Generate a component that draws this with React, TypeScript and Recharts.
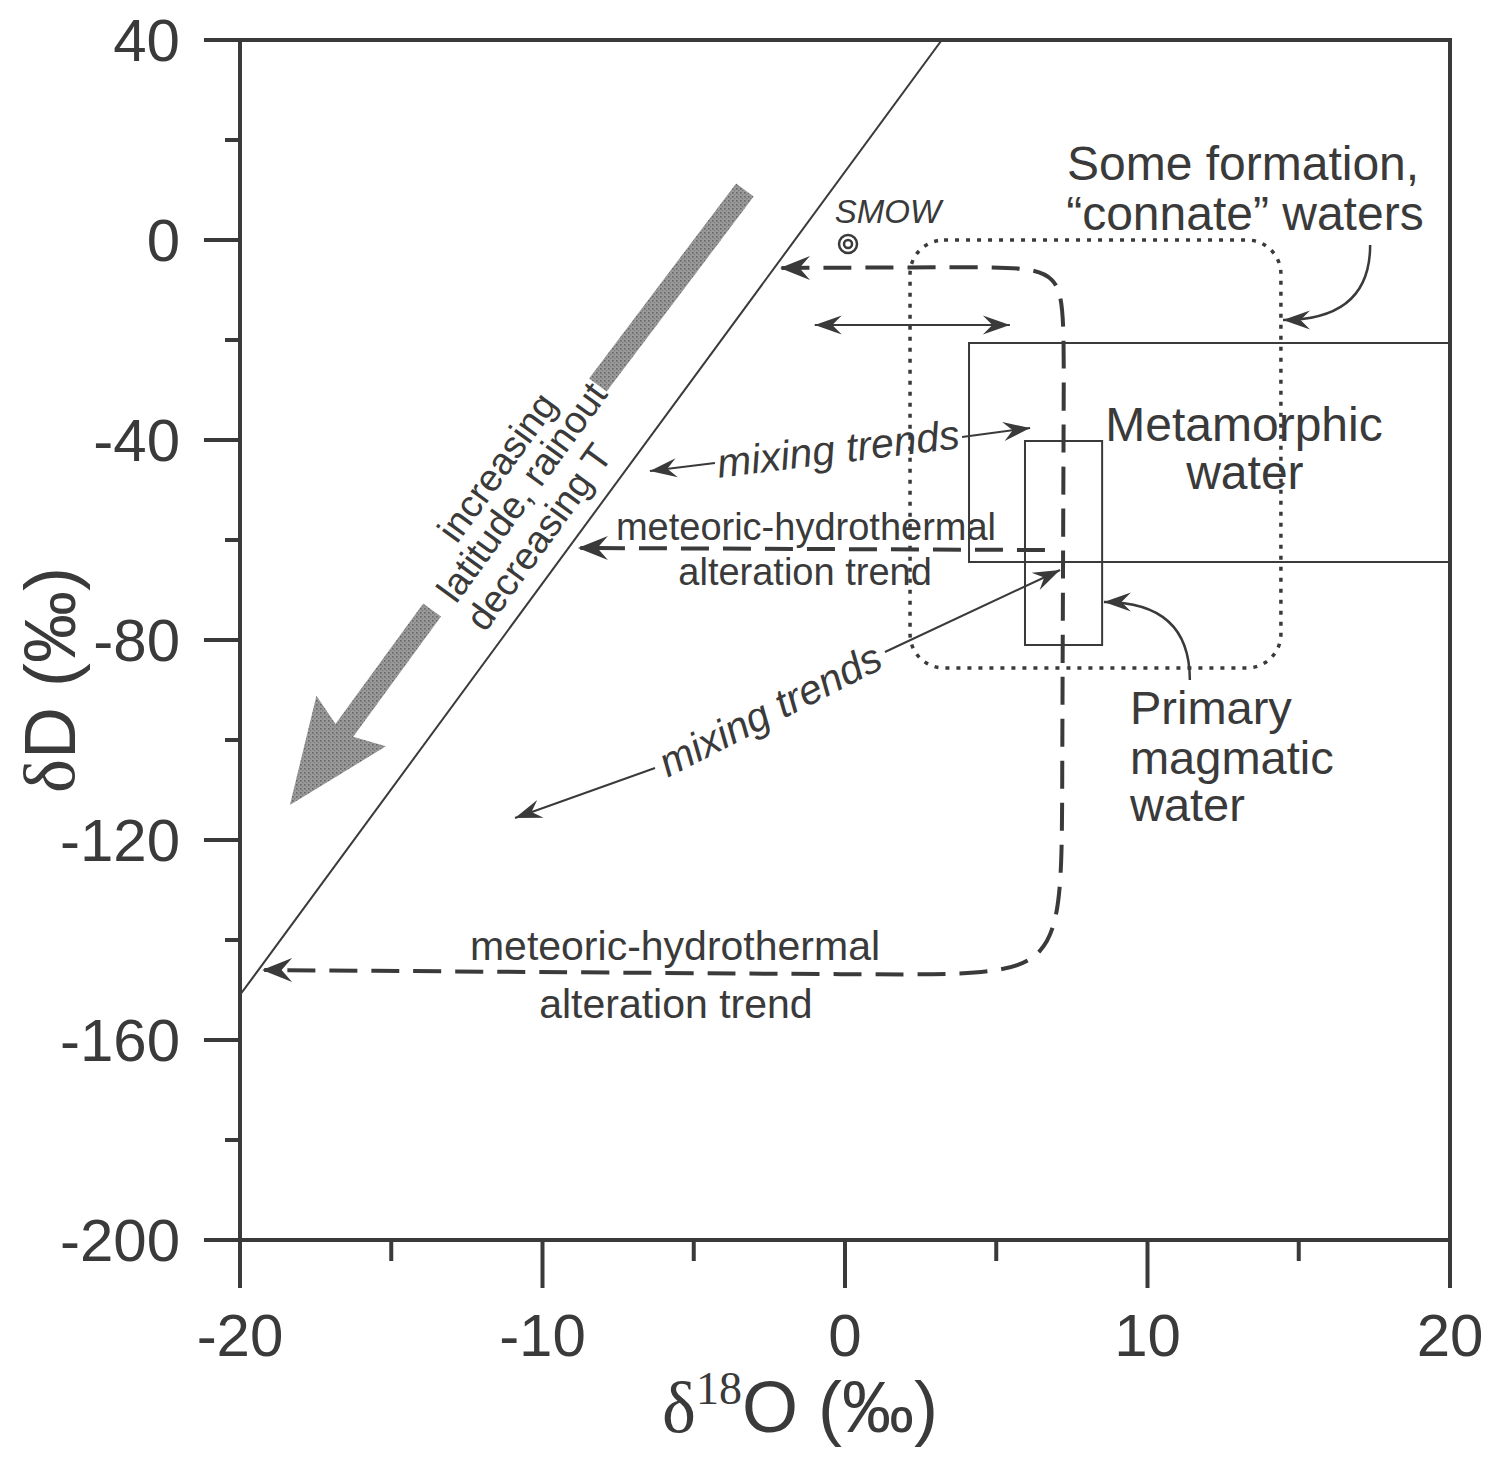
import React from "react";
import {
  ComposedChart,
  Line,
  XAxis,
  YAxis,
  ReferenceArea,
  ReferenceLine,
  ReferenceDot,
} from "recharts";

const W = 1486;
const H = 1448;
const INK = "#3a3a3a";
const GREY = "#8e8e8e";
const SANS = '"Liberation Sans", Arial, Helvetica, sans-serif';
const SERIF = '"Liberation Serif", "Times New Roman", serif';

// axes
const xTicks = [-20, -15, -10, -5, 0, 5, 10, 15, 20];
const yTicks = [40, 20, 0, -20, -40, -60, -80, -100, -120, -140, -160, -180, -200];

// meteoric water line
const meteoricLine = [
  { x: -20, y: -151 },
  { x: 3.2, y: 40 },
];

// long meteoric-hydrothermal alteration path (control points of a smooth curve)
const alterationPath = [
  { x: -2.1, y: -5.6 },
  { x: 4.8, y: -5.4 },
  { x: 7.24, y: -5.6 },
  { x: 7.24, y: -20 },
  { x: 7.17, y: -118 },
  { x: 7.17, y: -147 },
  { x: 2.8, y: -147 },
  { x: -19.2, y: -146 },
];

// short alteration trend
const alterationShort = [
  { x: 6.61, y: -62 },
  { x: -8.75, y: -61.6 },
];

// fields
const metamorphicBox = { x1: 4.1, x2: 20, y1: -20.6, y2: -64.4 };
const magmaticBox = { x1: 5.95, x2: 8.5, y1: -40.2, y2: -81 };
const connateField = { x1: 2.15, x2: 14.41, y1: 0, y2: -85.6 };
const smow = { x: 0.1, y: -0.8 };

// arrow heads on the dashed alteration trends [from, tip]
const dashedHeads = [
  [{ x: -1.2, y: -5.6 }, { x: -2.15, y: -5.6 }],
  [{ x: -7.9, y: -61.6 }, { x: -8.83, y: -61.6 }],
  [{ x: -18.3, y: -146 }, { x: -19.27, y: -146 }],
];

// thin single-headed arrows [from, tip]
const mixingArrows = [
  [{ x: -4.3, y: -44.6 }, { x: -6.45, y: -46.2 }],
  [{ x: 3.87, y: -39.4 }, { x: 6.12, y: -37.6 }],
  [{ x: 1.32, y: -82.4 }, { x: 7.11, y: -66 }],
  [{ x: -6.28, y: -105.6 }, { x: -10.91, y: -115.6 }],
];

// double-headed arrow
const doubleArrow = [{ x: -1.0, y: -17 }, { x: 5.45, y: -17 }];

// curved label pointers [from, tip]
const curvedArrows = [
  [{ x: 17.36, y: -1 }, { x: 14.48, y: -16 }],
  [{ x: 11.4, y: -88 }, { x: 8.56, y: -72.4 }],
];

// grey "increasing latitude" arrow, split around its text
const rainoutShaft = [{ x: -3.31, y: 10 }, { x: -8.17, y: -29 }];
const rainoutHead = [{ x: -13.65, y: -74 }, { x: -18.35, y: -113 }];

type Note = {
  x: number;
  y: number;
  text: string;
  size: number;
  italic?: boolean;
  angle?: number;
  anchor?: "start" | "middle";
};

const NOTES: Note[] = [
  { x: 13.16, y: 15.4, text: "Some formation,", size: 48 },
  { x: 13.22, y: 5.4, text: "\u201Cconnate\u201D waters", size: 48 },
  { x: 1.42, y: 5.8, text: "SMOW", size: 33, italic: true },
  { x: 13.19, y: -36.8, text: "Metamorphic", size: 48 },
  { x: 13.22, y: -46.4, text: "water", size: 48 },
  { x: 9.42, y: -93.4, text: "Primary", size: 47, anchor: "start" },
  { x: 9.42, y: -103.4, text: "magmatic", size: 47, anchor: "start" },
  { x: 9.42, y: -112.8, text: "water", size: 47, anchor: "start" },
  { x: -1.29, y: -57.4, text: "meteoric-hydrothermal", size: 38 },
  { x: -1.32, y: -66.4, text: "alteration trend", size: 38 },
  { x: -5.62, y: -141.2, text: "meteoric-hydrothermal", size: 41 },
  { x: -5.59, y: -152.8, text: "alteration trend", size: 41 },
  { x: -0.23, y: -41.8, text: "mixing trends", size: 41, italic: true, angle: -7 },
  { x: -2.48, y: -94, text: "mixing trends", size: 41, italic: true, angle: -27 },
  { x: -11.5, y: -45.4, text: "increasing", size: 38, angle: -54 },
  { x: -10.68, y: -50.4, text: "latitude, rainout", size: 38, angle: -54 },
  { x: -10.12, y: -59.4, text: "decreasing T", size: 38, angle: -54 },
];

function head(
  x: number,
  y: number,
  fx: number,
  fy: number,
  len: number,
  wid: number,
  fill: string,
  notch = 0.65
) {
  const a = Math.atan2(y - fy, x - fx);
  const c = Math.cos(a);
  const s = Math.sin(a);
  const bx = x - len * c;
  const by = y - len * s;
  const p1 = [bx - s * (wid / 2), by + c * (wid / 2)];
  const p2 = [bx + s * (wid / 2), by - c * (wid / 2)];
  const n = [x - len * notch * c, y - len * notch * s];
  return <path d={`M${x},${y} L${p1} L${n} L${p2} Z`} fill={fill} stroke="none" />;
}

const arrowShape = (both: boolean) => (p: any) => (
  <g>
    <line x1={p.x1} y1={p.y1} x2={p.x2} y2={p.y2} stroke={INK} strokeWidth={2} />
    {head(p.x2, p.y2, p.x1, p.y1, 27, 19, INK)}
    {both && head(p.x1, p.y1, p.x2, p.y2, 27, 19, INK)}
  </g>
);

const headOnly = (p: any) => <g>{head(p.x2, p.y2, p.x1, p.y1, 30, 24, INK)}</g>;

const curvedShape = (p: any) => {
  const cx = p.x1;
  const cy = p.y2;
  return (
    <g>
      <path
        d={`M${p.x1},${p.y1} Q${cx},${cy} ${p.x2},${p.y2}`}
        fill="none"
        stroke={INK}
        strokeWidth={2.5}
      />
      {head(p.x2, p.y2, cx, cy, 27, 19, INK)}
    </g>
  );
};

const stipple = (
  <defs>
    <pattern id="stipple" width={4} height={4} patternUnits="userSpaceOnUse">
      <rect width={4} height={4} fill="#9a9a9a" />
      <rect x={0} y={0} width={1.6} height={1.6} fill="#666" />
      <rect x={2} y={2} width={1.2} height={1.2} fill="#777" />
    </pattern>
  </defs>
);

const greyShaft = (p: any) => (
  <g>
    {stipple}
    <line x1={p.x1} y1={p.y1} x2={p.x2} y2={p.y2} stroke="url(#stipple)" strokeWidth={22} />
  </g>
);

const greyHead = (p: any) => {
  const a = Math.atan2(p.y2 - p.y1, p.x2 - p.x1);
  const ex = p.x2 - 80 * Math.cos(a);
  const ey = p.y2 - 80 * Math.sin(a);
  return (
    <g>
      <line x1={p.x1} y1={p.y1} x2={ex} y2={ey} stroke="url(#stipple)" strokeWidth={22} />
      {head(p.x2, p.y2, p.x1, p.y1, 104, 86, "url(#stipple)", 0.85)}
    </g>
  );
};

const roundedField = (p: any) => (
  <rect
    x={p.x}
    y={p.y}
    width={p.width}
    height={p.height}
    rx={34}
    ry={34}
    fill="none"
    stroke={INK}
    strokeWidth={3.5}
    strokeDasharray="4 7"
  />
);

const smowShape = (p: any) => (
  <g fill="none" stroke={INK} strokeWidth={2.5}>
    <circle cx={p.cx} cy={p.cy} r={9} />
    <circle cx={p.cx} cy={p.cy} r={4} />
  </g>
);

const noteShape = (n: Note) => (p: any) => (
  <text
    x={p.cx}
    y={p.cy}
    textAnchor={n.anchor ?? "middle"}
    dominantBaseline="central"
    fontFamily={SANS}
    fontSize={n.size}
    fontStyle={n.italic ? "italic" : "normal"}
    fill={INK}
    transform={n.angle ? `rotate(${n.angle}, ${p.cx}, ${p.cy})` : undefined}
  >
    {n.text}
  </text>
);

const XTick = (p: any) => {
  const v = p.payload.value;
  const major = v % 10 === 0;
  return (
    <g>
      <line x1={p.x} y1={p.y} x2={p.x} y2={p.y + (major ? 48 : 21)} stroke={INK} strokeWidth={4} />
      {major && (
        <text
          x={p.x}
          y={p.y + 95}
          textAnchor="middle"
          dominantBaseline="central"
          fontFamily={SANS}
          fontSize={60}
          fill={INK}
        >
          {v}
        </text>
      )}
    </g>
  );
};

const YTick = (p: any) => {
  const v = p.payload.value;
  const major = v % 40 === 0;
  return (
    <g>
      <line x1={p.x - (major ? 36 : 15)} y1={p.y} x2={p.x} y2={p.y} stroke={INK} strokeWidth={4} />
      {major && (
        <text
          x={p.x - 60}
          y={p.y}
          textAnchor="end"
          dominantBaseline="central"
          fontFamily={SANS}
          fontSize={60}
          fill={INK}
        >
          {v}
        </text>
      )}
    </g>
  );
};

const XLabel = (p: any) => {
  const vb = p.viewBox;
  const cx = vb.x + vb.width / 2 - 45;
  return (
    <text x={cx} y={vb.y + 192} textAnchor="middle" fontFamily={SANS} fontSize={72} fill={INK}>
      <tspan fontFamily={SERIF}>δ</tspan>
      <tspan fontFamily={SERIF} fontSize={46} dy={-28}>
        18
      </tspan>
      <tspan dy={28}>O (‰)</tspan>
    </text>
  );
};

const YLabel = (p: any) => {
  const vb = p.viewBox;
  const cx = 42;
  const cy = vb.y + vb.height / 2 + 40;
  return (
    <text
      x={cx}
      y={cy}
      textAnchor="middle"
      dominantBaseline="central"
      fontFamily={SANS}
      fontSize={72}
      fill={INK}
      transform={`rotate(-90, ${cx}, ${cy})`}
    >
      <tspan fontFamily={SERIF}>δ</tspan>
      <tspan>D (‰)</tspan>
    </text>
  );
};

export default function App() {
  return (
    <div style={{ width: W, height: H, background: "#fff" }}>
      <ComposedChart width={W} height={H} margin={{ top: 32, right: 44, bottom: 8, left: 0 }}>
        <XAxis
          type="number"
          dataKey="x"
          domain={[-20, 20]}
          ticks={xTicks}
          interval={0}
          allowDataOverflow
          tickSize={0}
          tickMargin={0}
          tickLine={false}
          axisLine={{ stroke: INK, strokeWidth: 4 }}
          tick={XTick}
          height={208}
          label={XLabel}
        />
        <YAxis
          type="number"
          dataKey="y"
          domain={[-200, 40]}
          ticks={yTicks}
          interval={0}
          allowDataOverflow
          tickSize={0}
          tickMargin={0}
          tickLine={false}
          axisLine={{ stroke: INK, strokeWidth: 4 }}
          tick={YTick}
          width={232}
          label={YLabel}
        />

        {/* frame */}
        <ReferenceArea x1={-20} x2={20} y1={-200} y2={40} fill="none" stroke={INK} strokeWidth={4} />

        {/* fields */}
        <ReferenceArea {...metamorphicBox} fill="none" stroke={INK} strokeWidth={2} />
        <ReferenceArea {...magmaticBox} fill="none" stroke={INK} strokeWidth={2} />
        <ReferenceArea {...connateField} shape={roundedField} />

        {/* grey arrow */}
        <ReferenceLine segment={rainoutShaft} shape={greyShaft} />
        <ReferenceLine segment={rainoutHead} shape={greyHead} />

        <Line
          data={meteoricLine}
          dataKey="y"
          type="linear"
          stroke={INK}
          strokeWidth={2}
          dot={false}
          activeDot={false}
          isAnimationActive={false}
        />
        <Line
          data={alterationPath}
          dataKey="y"
          type="basis"
          stroke={INK}
          strokeWidth={4}
          strokeDasharray="28 14"
          dot={false}
          activeDot={false}
          isAnimationActive={false}
        />
        <Line
          data={alterationShort}
          dataKey="y"
          type="linear"
          stroke={INK}
          strokeWidth={4}
          strokeDasharray="28 14"
          dot={false}
          activeDot={false}
          isAnimationActive={false}
        />

        {dashedHeads.map((s, i) => (
          <ReferenceLine key={`dh${i}`} segment={s} shape={headOnly} />
        ))}
        {mixingArrows.map((s, i) => (
          <ReferenceLine key={`ma${i}`} segment={s} shape={arrowShape(false)} />
        ))}
        <ReferenceLine segment={doubleArrow} shape={arrowShape(true)} />
        {curvedArrows.map((s, i) => (
          <ReferenceLine key={`ca${i}`} segment={s} shape={curvedShape} />
        ))}

        <ReferenceDot x={smow.x} y={smow.y} r={9} shape={smowShape} />

        {NOTES.map((n, i) => (
          <ReferenceDot key={`n${i}`} x={n.x} y={n.y} r={1} shape={noteShape(n)} />
        ))}
      </ComposedChart>
    </div>
  );
}
